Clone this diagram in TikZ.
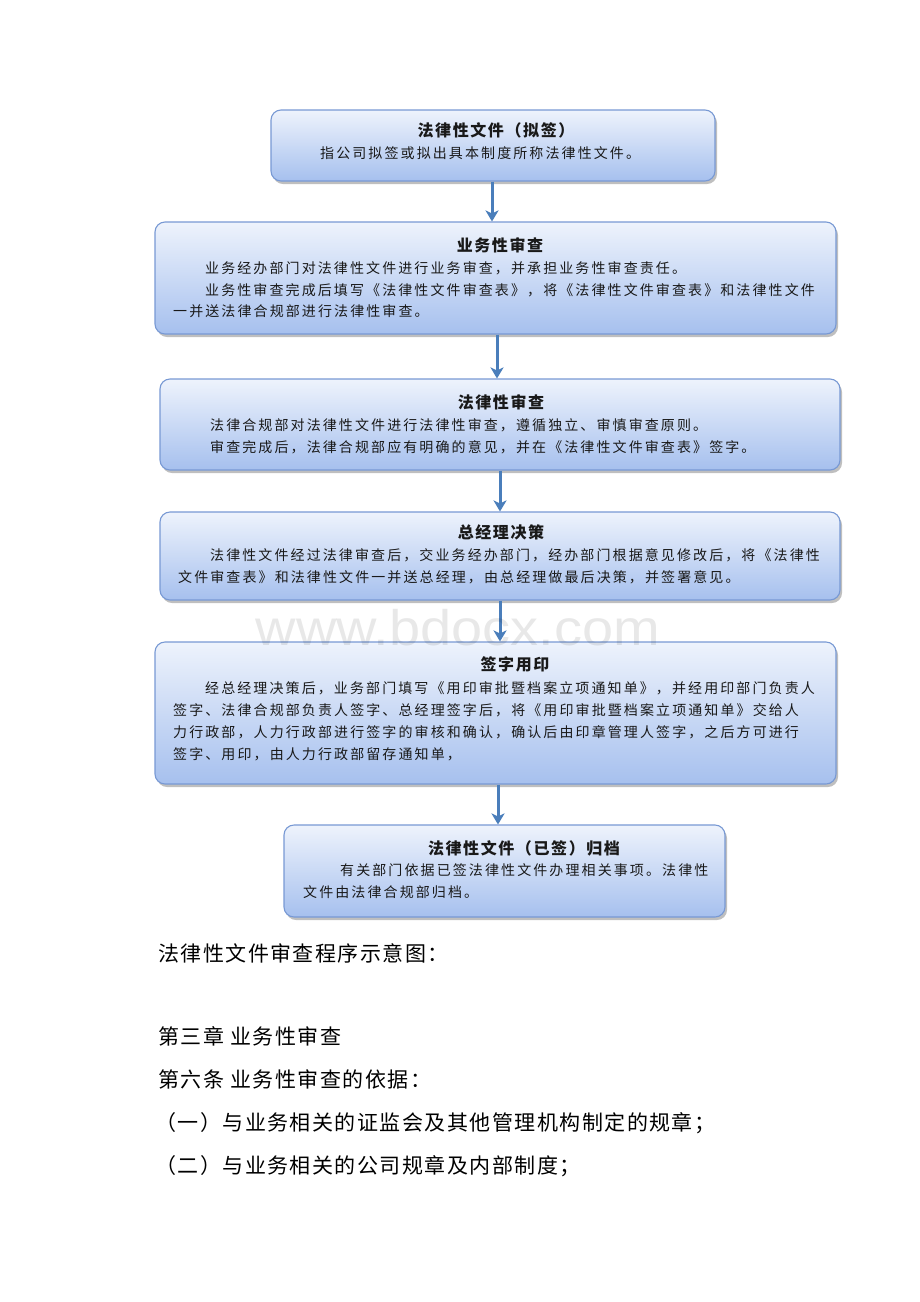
\documentclass[tikz,border=0pt]{standalone}
\usepackage{fontspec}
\setsansfont{Liberation Sans}
\newfontfamily\cjk[LetterSpace=15]{Noto Sans CJK SC}
\newfontfamily\cjkt[LetterSpace=10]{Noto Sans CJK SC}
\newfontfamily\cjkb[LetterSpace=7]{Noto Sans CJK SC}
\usetikzlibrary{arrows.meta,shadows}
\definecolor{boxtop}{RGB}{238,243,252}
\definecolor{boxbot}{RGB}{166,192,238}
\definecolor{boxline}{RGB}{120,153,212}
\definecolor{arr}{RGB}{74,126,187}
\definecolor{txt}{RGB}{25,25,25}
\tikzset{
  flowbox/.style={rounded corners=10pt, draw=boxline, line width=1.1pt,
    top color=boxtop, bottom color=boxbot, inner sep=0pt,
    drop shadow={shadow xshift=2pt, shadow yshift=-3pt, fill=black!50, opacity=.5}},
  ttl/.style={anchor=base, inner sep=0pt, text=txt, font=\cjkt\fontsize{16}{16}\selectfont},
  bdy/.style={anchor=base west, inner sep=0pt, text=txt, font=\cjk\fontsize{14}{14}\selectfont},
  para/.style={anchor=base west, inner sep=0pt, text=black, font=\cjkb\fontsize{21}{21}\selectfont},
  flow/.style={draw=arr, line width=3pt, -{Stealth[width=13pt,length=11pt,inset=3pt]}}
}
\begin{document}
\begin{tikzpicture}[x=1pt,y=-1pt]
\useasboundingbox (0,0) rectangle (920,1302);
\fill[white] (0,0) rectangle (920,1302);
% boxes
\node[flowbox, minimum width=444pt, minimum height=71pt] (b1) at (493,145.5) {};
\node[flowbox, minimum width=681pt, minimum height=112pt] (b2) at (495.5,278) {};
\node[flowbox, minimum width=680pt, minimum height=91pt] (b3) at (500,424.5) {};
\node[flowbox, minimum width=680pt, minimum height=88pt] (b4) at (500,556) {};
\node[flowbox, minimum width=681pt, minimum height=142pt] (b5) at (495.5,713) {};
\node[flowbox, minimum width=441pt, minimum height=92pt] (b6) at (504.5,871) {};
% arrows
\coordinate (a1) at (492,0);
\coordinate (a2) at (497,0);
\coordinate (a3) at (500,0);
\coordinate (a4) at (500,0);
\coordinate (a5) at (498,0);
\draw[flow] (b1.south -| a1) -- (b2.north -| a1);
\draw[flow] (b2.south -| a2) -- (b3.north -| a2);
\draw[flow] (b3.south -| a3) -- (b4.north -| a3);
\draw[flow] (b4.south -| a4) -- (b5.north -| a4);
\draw[flow] (b5.south -| a5) -- (b6.north -| a5);
% box 1
\node[ttl] (t1) at (496,136) {\bfseries 法律性文件（拟签）};
\node[bdy] (l11) at (320,158) {指公司拟签或拟出具本制度所称法律性文件。};
% box 2
\node[ttl] (t2) at (500,251) {\bfseries 业务性审查};
\node[bdy] (l21) at (205,273) {业务经办部门对法律性文件进行业务审查，并承担业务性审查责任。};
\node[bdy] (l22) at (205,295) {业务性审查完成后填写《法律性文件审查表》，将《法律性文件审查表》和法律性文件};
\node[bdy] (l23) at (173,316) {一并送法律合规部进行法律性审查。};
% box 3
\node[ttl] (t3) at (501,408) {\bfseries 法律性审查};
\node[bdy] (l31) at (210,430) {法律合规部对法律性文件进行法律性审查，遵循独立、审慎审查原则。};
\node[bdy] (l32) at (210,452) {审查完成后，法律合规部应有明确的意见，并在《法律性文件审查表》签字。};
% box 4
\node[ttl] (t4) at (501,538) {\bfseries 总经理决策};
\node[bdy] (l41) at (210,560) {法律性文件经过法律审查后，交业务经办部门，经办部门根据意见修改后，将《法律性};
\node[bdy] (l42) at (178,582) {文件审查表》和法律性文件一并送总经理，由总经理做最后决策，并签署意见。};
% box 5
\node[ttl] (t5) at (515,670) {\bfseries 签字用印};
\node[bdy] (l51) at (205,693) {经总经理决策后，业务部门填写《用印审批暨档案立项通知单》，并经用印部门负责人};
\node[bdy] (l52) at (173,715) {签字、法律合规部负责人签字、总经理签字后，将《用印审批暨档案立项通知单》交给人};
\node[bdy] (l53) at (173,737) {力行政部，人力行政部进行签字的审核和确认，确认后由印章管理人签字，之后方可进行};
\node[bdy] (l54) at (173,759) {签字、用印，由人力行政部留存通知单，};
% box 6
\node[ttl] (t6) at (524,854) {\bfseries 法律性文件（已签）归档};
\node[bdy] (l61) at (340,875) {有关部门依据已签法律性文件办理相关事项。法律性};
\node[bdy] (l62) at (303,897) {文件由法律合规部归档。};
% watermark
\node[anchor=base, inner sep=0pt, text=black, text opacity=0.09, xscale=1.12, font=\sffamily\fontsize{50}{50}\selectfont] (wm) at (458,645) {www.bdocx.com};
% paragraph text
\node[para] (p1) at (158,961) {法律性文件审查程序示意图：};
\node[para] (p2) at (158,1044) {第三章 业务性审查};
\node[para] (p3) at (158,1087) {第六条 业务性审查的依据：};
\node[para] (p4) at (155,1130) {（一）与业务相关的证监会及其他管理机构制定的规章；};
\node[para] (p5) at (155,1173) {（二）与业务相关的公司规章及内部制度；};
\end{tikzpicture}
\end{document}
